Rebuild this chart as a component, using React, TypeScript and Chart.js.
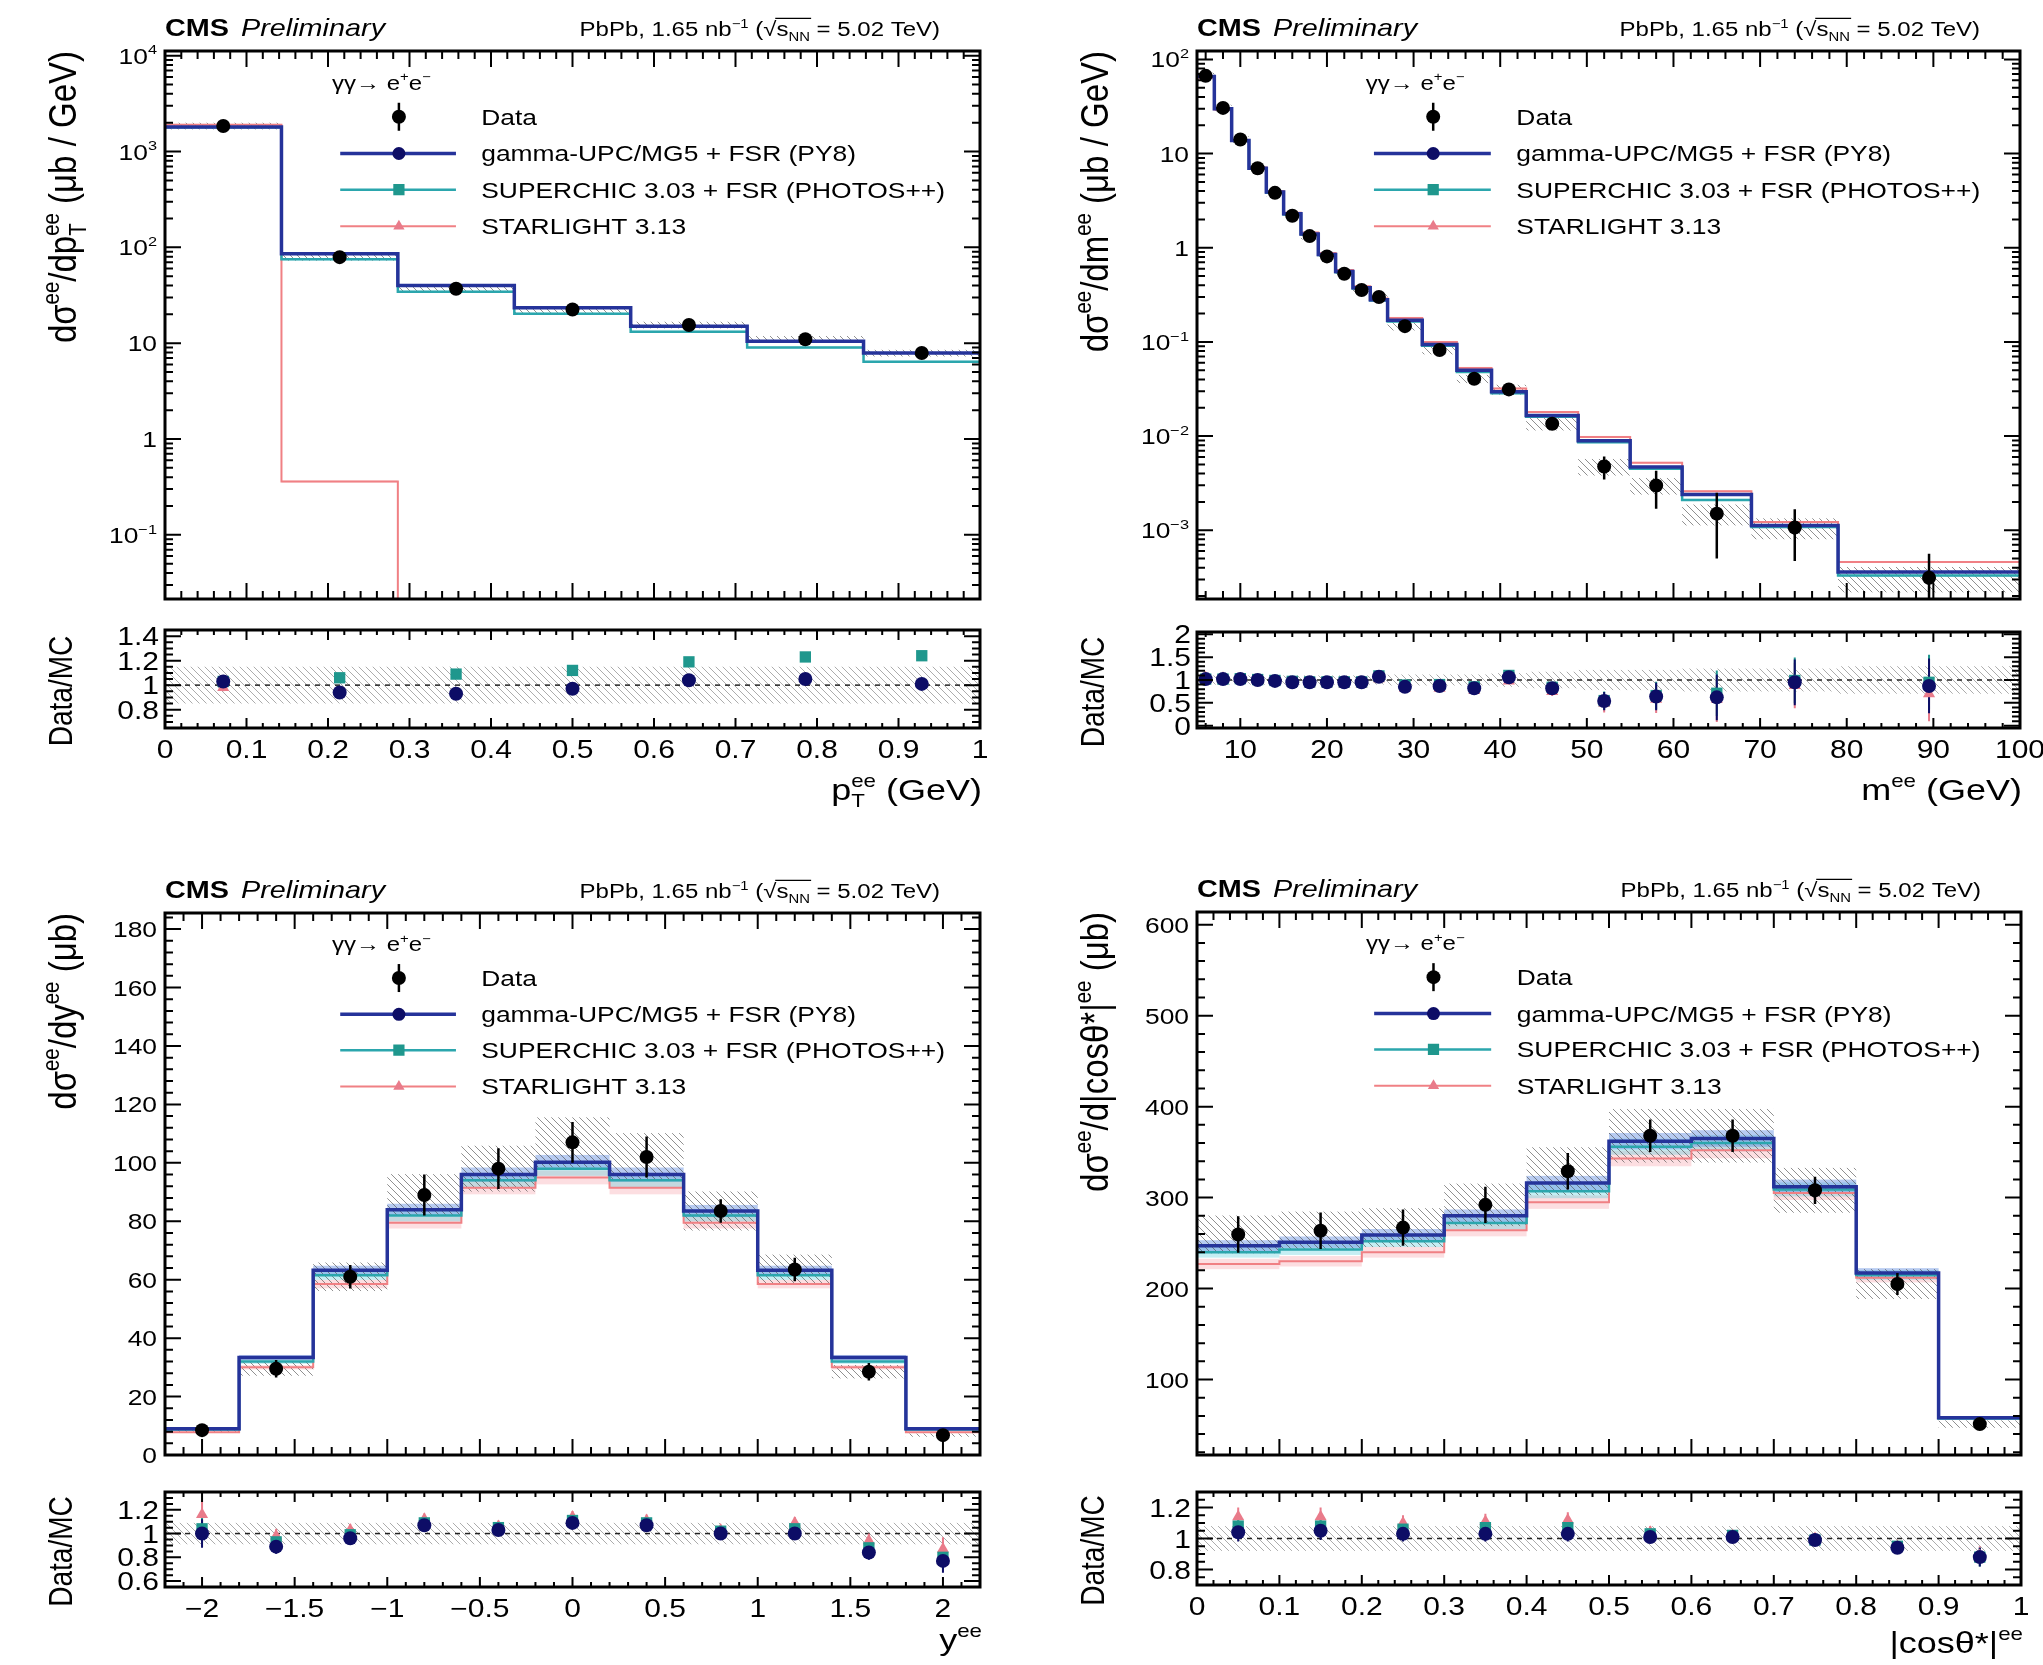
import { useEffect, useRef } from 'react';
import { Chart, registerables } from 'chart.js';

Chart.register(...registerables);

const FONT = '"Liberation Sans", Arial, Helvetica, sans-serif';
const STRETCH = 1.2; // text is drawn slightly wide, like the ROOT canvas it mimics
const BAND = 0.025; // half-width of the model uncertainty bands

const MODEL_NAMES = ['gamma-UPC/MG5 + FSR (PY8)', 'SUPERCHIC 3.03 + FSR (PHOTOS++)', 'STARLIGHT 3.13'];
const MODEL_LINE = ['#25339a', '#2ba6ad', '#f08084'];
const MODEL_WIDTH = [3.5, 2.5, 2];
const MODEL_MARKER = ['#0d0d66', '#1f978d', '#e97b8a'];
const MODEL_BAND = ['rgba(95,140,225,0.45)', 'rgba(90,205,220,0.35)', 'rgba(245,160,170,0.35)'];
const MODEL_STYLE = ['circle', 'rect', 'triangle'];

// ---------- pT of the pair ----------
const ptEdges = [0, 0.1429, 0.2857, 0.4286, 0.5714, 0.7143, 0.8571, 1.0];
const ptData = [1850, 79, 37, 22.5, 15.5, 11.0, 7.9];
const ptDataErr = [50, 2.5, 1.2, 0.8, 0.6, 0.45, 0.35];
const ptSyst = [0.08, 0.08, 0.08, 0.08, 0.08, 0.08, 0.08];
const ptGammaUPC = [1800, 86, 40, 23.5, 15.0, 10.5, 7.9];
const ptSuperchic = [1790, 75, 34.5, 20.3, 13.2, 9.0, 6.4];
const ptStarlight = [1900, 0.36, 0, 0, 0, 0, 0];
const ptRatioGammaUPC = [1.03, 0.94, 0.93, 0.97, 1.04, 1.05, 1.01];
const ptRatioSuperchic = [1.03, 1.06, 1.09, 1.12, 1.19, 1.23, 1.24];
const ptRatioStarlight = [0.98, null, null, null, null, null, null];
const ptRatioErr = [0.03, 0.03, 0.03, 0.03, 0.03, 0.03, 0.03];
const ptRatioSyst = [0.15, 0.15, 0.15, 0.15, 0.15, 0.15, 0.15];
const ptXTicks = [0, 0.1, 0.2, 0.3, 0.4, 0.5, 0.6, 0.7, 0.8, 0.9, 1];
const ptXLabels = ['0', '0.1', '0.2', '0.3', '0.4', '0.5', '0.6', '0.7', '0.8', '0.9', '1'];
const ptYTicks = [0.1, 1, 10, 100, 1000, 10000];
const ptYLabels = ['10^−1', '1', '10', '10^2', '10^3', '10^4'];
const ptRatioTicks = [0.8, 1, 1.2, 1.4];
const ptRatioLabels = ['0.8', '1', '1.2', '1.4'];

// ---------- invariant mass ----------
const massEdges = [5, 7, 9, 11, 13, 15, 17, 19, 21, 23, 25, 27, 31, 35, 39, 43, 49, 55, 61, 69, 79, 100];
const massData = [67, 30.6, 14.1, 7.0, 3.83, 2.19, 1.33, 0.81, 0.53, 0.356, 0.30, 0.147, 0.082, 0.0406, 0.0313, 0.0135, 0.00476, 0.00299, 0.0015, 0.00107, 0.000313];
const massDataErr = [2, 1, 0.4, 0.2, 0.1, 0.06, 0.04, 0.025, 0.017, 0.012, 0.011, 0.007, 0.005, 0.003, 0.0025, 0.0015, 0.0013, 0.0013, 0.001, 0.0006, 0.00025];
const massSyst = [0.08, 0.08, 0.08, 0.08, 0.08, 0.08, 0.08, 0.08, 0.08, 0.08, 0.08, 0.1, 0.1, 0.1, 0.12, 0.15, 0.2, 0.2, 0.25, 0.25, 0.3];
const massGammaUPC = [66, 30, 13.8, 7.0, 3.9, 2.3, 1.4, 0.85, 0.56, 0.375, 0.28, 0.17, 0.094, 0.05, 0.0295, 0.0165, 0.0089, 0.0047, 0.0024, 0.00112, 0.00036];
const massSuperchic = [66, 30, 13.7, 6.9, 3.85, 2.25, 1.38, 0.84, 0.55, 0.37, 0.275, 0.165, 0.091, 0.048, 0.0285, 0.016, 0.0086, 0.0045, 0.0021, 0.00108, 0.00033];
const massStarlight = [64, 29.5, 13.8, 7.1, 4.0, 2.35, 1.45, 0.88, 0.58, 0.39, 0.29, 0.18, 0.1, 0.053, 0.032, 0.018, 0.0098, 0.0052, 0.0026, 0.00122, 0.00046];
const massRatioGammaUPC = [1.02, 1.02, 1.02, 1.0, 0.98, 0.95, 0.95, 0.95, 0.95, 0.95, 1.07, 0.85, 0.87, 0.82, 1.06, 0.82, 0.54, 0.64, 0.62, 0.95, 0.87];
const massRatioSuperchic = [1.02, 1.02, 1.03, 1.01, 0.99, 0.97, 0.96, 0.96, 0.96, 0.96, 1.09, 0.89, 0.9, 0.85, 1.1, 0.84, 0.55, 0.66, 0.71, 0.99, 0.95];
const massRatioStarlight = [1.05, 1.04, 1.02, 0.99, 0.96, 0.93, 0.92, 0.92, 0.91, 0.91, 1.03, 0.82, 0.82, 0.77, 0.98, 0.75, 0.49, 0.58, 0.58, 0.88, 0.7];
const massRatioErr = [0.02, 0.02, 0.02, 0.02, 0.02, 0.02, 0.02, 0.02, 0.03, 0.03, 0.03, 0.04, 0.05, 0.06, 0.07, 0.1, 0.2, 0.3, 0.5, 0.5, 0.6];
const massRatioSyst = [0.1, 0.1, 0.1, 0.1, 0.1, 0.1, 0.1, 0.1, 0.1, 0.1, 0.1, 0.12, 0.12, 0.12, 0.15, 0.18, 0.22, 0.22, 0.25, 0.25, 0.3];
const massXTicks = [10, 20, 30, 40, 50, 60, 70, 80, 90, 100];
const massXLabels = ['10', '20', '30', '40', '50', '60', '70', '80', '90', '100'];
const massYTicks = [0.001, 0.01, 0.1, 1, 10, 100];
const massYLabels = ['10^−3', '10^−2', '10^−1', '1', '10', '10^2'];
const massRatioTicks = [0, 0.5, 1, 1.5, 2];
const massRatioLabels = ['0', '0.5', '1', '1.5', '2'];

// ---------- rapidity ----------
const yEdges = [-2.2, -1.8, -1.4, -1.0, -0.6, -0.2, 0.2, 0.6, 1.0, 1.4, 1.8, 2.2];
const yData = [8.5, 29.5, 61, 89, 98, 107, 102, 83.5, 63.5, 28.5, 6.8];
const yDataErr = [1.5, 3, 4, 7, 7, 7, 7, 4, 4, 3, 1.5];
const ySyst = [0.08, 0.08, 0.08, 0.08, 0.08, 0.08, 0.08, 0.08, 0.08, 0.08, 0.08];
const yGammaUPC = [9.0, 33.4, 63.2, 83.9, 96, 100.2, 96, 83.5, 63.2, 33.4, 9.0];
const ySuperchic = [8.7, 32.0, 61.5, 82.0, 94, 98.0, 94, 82, 61.5, 32.0, 8.7];
const yStarlight = [7.8, 30.0, 58.5, 79.5, 91.5, 95.0, 91.5, 79.5, 58.5, 30.0, 7.8];
const yRatioGammaUPC = [1.0, 0.89, 0.96, 1.07, 1.03, 1.09, 1.07, 1.0, 1.0, 0.84, 0.77];
const yRatioSuperchic = [1.04, 0.93, 0.99, 1.09, 1.05, 1.11, 1.09, 1.02, 1.04, 0.88, 0.8];
const yRatioStarlight = [1.16, 0.98, 1.03, 1.12, 1.06, 1.14, 1.11, 1.03, 1.09, 0.94, 0.87];
const yRatioErr = [0.12, 0.06, 0.05, 0.05, 0.05, 0.05, 0.05, 0.04, 0.05, 0.06, 0.1];
const yRatioSyst = [0.09, 0.09, 0.09, 0.09, 0.09, 0.09, 0.09, 0.09, 0.09, 0.09, 0.09];
const yXTicks = [-2, -1.5, -1, -0.5, 0, 0.5, 1, 1.5, 2];
const yXLabels = ['−2', '−1.5', '−1', '−0.5', '0', '0.5', '1', '1.5', '2'];
const yYTicks = [0, 20, 40, 60, 80, 100, 120, 140, 160, 180];
const yYLabels = ['0', '20', '40', '60', '80', '100', '120', '140', '160', '180'];
const yRatioTicks = [0.6, 0.8, 1, 1.2];
const yRatioLabels = ['0.6', '0.8', '1', '1.2'];

// ---------- |cos theta*| ----------
const cosEdges = [0, 0.1, 0.2, 0.3, 0.4, 0.5, 0.6, 0.7, 0.8, 0.9, 1.0];
const cosData = [259.5, 263.5, 267, 292, 329, 368, 368, 308, 205, 51];
const cosDataErr = [20, 20, 20, 20, 20, 18, 18, 15, 12, 5];
const cosSyst = [0.08, 0.08, 0.08, 0.08, 0.08, 0.08, 0.08, 0.08, 0.08, 0.08];
const cosGammaUPC = [247, 251, 259, 280, 316, 362, 365, 312, 217, 58];
const cosSuperchic = [240, 243, 252, 272, 307, 356, 360, 309, 215, 57];
const cosStarlight = [227, 230, 240, 264, 295, 343, 352, 305, 212, 58];
const cosRatioGammaUPC = [1.04, 1.05, 1.03, 1.03, 1.03, 1.01, 1.01, 0.99, 0.94, 0.88];
const cosRatioSuperchic = [1.08, 1.08, 1.06, 1.07, 1.07, 1.03, 1.02, 0.99, 0.95, 0.88];
const cosRatioStarlight = [1.14, 1.14, 1.1, 1.11, 1.12, 1.04, 1.02, 1.0, 0.95, 0.89];
const cosRatioErr = [0.06, 0.06, 0.05, 0.05, 0.05, 0.04, 0.03, 0.03, 0.03, 0.06];
const cosRatioSyst = [0.08, 0.08, 0.08, 0.08, 0.08, 0.08, 0.08, 0.08, 0.08, 0.08];
const cosXTicks = [0, 0.1, 0.2, 0.3, 0.4, 0.5, 0.6, 0.7, 0.8, 0.9, 1];
const cosXLabels = ['0', '0.1', '0.2', '0.3', '0.4', '0.5', '0.6', '0.7', '0.8', '0.9', '1'];
const cosYTicks = [100, 200, 300, 400, 500, 600];
const cosYLabels = ['100', '200', '300', '400', '500', '600'];
const cosRatioTicks = [0.8, 1, 1.2];
const cosRatioLabels = ['0.8', '1', '1.2'];

// ---------- helpers ----------
type Seg = { t: string; sup?: string; sub?: string; style?: string; over?: boolean };
type Axis = { min: number; max: number; log?: boolean; major: number[]; labels: string[]; minor: number[] };
type PanelDef = {
  key: string;
  box: [number, number, number, number];
  frameX: [number, number];
  mainY: [number, number];
  ratioY: [number, number];
  edges: number[];
  data: number[];
  dataErr: number[];
  syst: number[];
  models: number[][];
  ratios: (number | null)[][];
  ratioErr: number[];
  ratioSyst: number[];
  x: Axis;
  y: Axis;
  ry: Axis;
  yTitle: Seg[];
  xTitle: Seg[];
  xTitleDy: number;
};

function steps(min: number, max: number, step: number): number[] {
  const out: number[] = [];
  const start = Math.ceil(min / step - 1e-6);
  for (let i = start; i * step <= max + 1e-9; i++) out.push(Math.round(i * step * 1e6) / 1e6);
  return out;
}

function logSteps(min: number, max: number): number[] {
  const out: number[] = [];
  for (let e = Math.floor(Math.log10(min)); e <= Math.ceil(Math.log10(max)); e++) {
    for (let m = 1; m < 10; m++) {
      const v = m * Math.pow(10, e);
      if (v >= min && v <= max) out.push(v);
    }
  }
  return out;
}

function parseLabel(s: string): Seg[] {
  const [base, exp] = s.split('^');
  return exp ? [{ t: base, sup: exp }] : [{ t: base }];
}

function centers(edges: number[]): number[] {
  return edges.slice(0, -1).map((e, i) => (e + edges[i + 1]) / 2);
}

// Histogram outline as step points; empty bins on a log axis sit on the axis floor.
function stepPoints(edges: number[], vals: number[], floor: number | null) {
  const v = (y: number) => (floor !== null && !(y > 0) ? floor : y);
  const pts = vals.map((y, i) => ({ x: edges[i], y: v(y) }));
  pts.push({ x: edges[edges.length - 1], y: v(vals[vals.length - 1]) });
  return pts;
}

function drawRich(
  ctx: CanvasRenderingContext2D,
  segs: Seg[],
  x: number,
  y: number,
  size: number,
  o: { align?: 'left' | 'right' | 'center'; style?: string; rot?: boolean; color?: string; sx?: number } = {}
): number {
  const sx = o.sx ?? STRETCH;
  const small = size * 0.62;
  const font = (px: number, st?: string) => `${st ? st + ' ' : ''}${px}px ${FONT}`;
  const parts: { seg: Seg; x: number; wt: number; ws: number }[] = [];
  let w = 0;
  for (const seg of segs) {
    const st = seg.style ?? o.style;
    ctx.font = font(size, st);
    const wt = seg.t ? ctx.measureText(seg.t).width : 0;
    ctx.font = font(small, st);
    const ws = Math.max(seg.sup ? ctx.measureText(seg.sup).width : 0, seg.sub ? ctx.measureText(seg.sub).width : 0);
    parts.push({ seg, x: w, wt, ws });
    w += wt + ws;
  }
  ctx.save();
  ctx.translate(x, y);
  if (o.rot) {
    ctx.rotate(-Math.PI / 2);
    ctx.scale(1, sx);
  } else {
    ctx.scale(sx, 1);
  }
  const x0 = o.align === 'right' ? -w : o.align === 'center' ? -w / 2 : 0;
  ctx.fillStyle = o.color ?? '#000';
  ctx.strokeStyle = o.color ?? '#000';
  ctx.textAlign = 'left';
  ctx.textBaseline = 'alphabetic';
  for (const p of parts) {
    const st = p.seg.style ?? o.style;
    if (p.seg.t) {
      ctx.font = font(size, st);
      ctx.fillText(p.seg.t, x0 + p.x, 0);
    }
    ctx.font = font(small, st);
    if (p.seg.sup) ctx.fillText(p.seg.sup, x0 + p.x + p.wt, -size * 0.42);
    if (p.seg.sub) ctx.fillText(p.seg.sub, x0 + p.x + p.wt, size * 0.24);
    if (p.seg.over) {
      ctx.lineWidth = Math.max(1, size * 0.07);
      ctx.beginPath();
      ctx.moveTo(x0 + p.x - 1, -size * 0.88);
      ctx.lineTo(x0 + p.x + p.wt + p.ws + 1, -size * 0.88);
      ctx.stroke();
    }
  }
  ctx.restore();
  return w * sx;
}

function drawMarker(ctx: CanvasRenderingContext2D, kind: string, x: number, y: number, r: number, color: string) {
  ctx.fillStyle = color;
  ctx.beginPath();
  if (kind === 'rect') ctx.rect(x - r * 0.75, y - r * 0.75, r * 1.5, r * 1.5);
  else if (kind === 'triangle') {
    ctx.moveTo(x, y - r);
    ctx.lineTo(x + r * 0.87, y + r * 0.5);
    ctx.lineTo(x - r * 0.87, y + r * 0.5);
    ctx.closePath();
  } else ctx.arc(x, y, r, 0, Math.PI * 2);
  ctx.fill();
}

const hatchCache = new WeakMap<CanvasRenderingContext2D, CanvasPattern>();
function hatch(ctx: CanvasRenderingContext2D, color: string): CanvasPattern | string {
  const cached = hatchCache.get(ctx);
  if (cached) return cached;
  const c = document.createElement('canvas');
  c.width = 7;
  c.height = 7;
  const g = c.getContext('2d');
  if (!g) return color;
  g.strokeStyle = color;
  g.lineWidth = 1;
  g.beginPath();
  g.moveTo(-1, -1);
  g.lineTo(8, 8);
  g.moveTo(-1, 6);
  g.lineTo(1, 8);
  g.moveTo(6, -1);
  g.lineTo(8, 1);
  g.stroke();
  const pat = ctx.createPattern(c, 'repeat');
  if (!pat) return color;
  hatchCache.set(ctx, pat);
  return pat;
}

function frameAndTicks(chart: any, xa: Axis, ya: Axis, xLen: [number, number], yLen: [number, number]) {
  const { ctx, chartArea: a } = chart;
  const xs = chart.scales.x;
  const ys = chart.scales.y;
  ctx.save();
  ctx.strokeStyle = '#000';
  ctx.lineWidth = 2;
  ctx.beginPath();
  const tx = (v: number, len: number) => {
    const px = xs.getPixelForValue(v);
    if (px < a.left + 1 || px > a.right - 1) return;
    ctx.moveTo(px, a.bottom);
    ctx.lineTo(px, a.bottom - len);
    ctx.moveTo(px, a.top);
    ctx.lineTo(px, a.top + len);
  };
  const ty = (v: number, len: number) => {
    const py = ys.getPixelForValue(v);
    if (py < a.top + 1 || py > a.bottom - 1) return;
    ctx.moveTo(a.left, py);
    ctx.lineTo(a.left + len, py);
    ctx.moveTo(a.right, py);
    ctx.lineTo(a.right - len, py);
  };
  xa.minor.forEach((v) => tx(v, xLen[1]));
  xa.major.forEach((v) => tx(v, xLen[0]));
  ya.minor.forEach((v) => ty(v, yLen[1]));
  ya.major.forEach((v) => ty(v, yLen[0]));
  ctx.stroke();
  ctx.lineWidth = 3;
  ctx.strokeRect(a.left, a.top, a.right - a.left, a.bottom - a.top);
  ctx.restore();
}

const LUMI: Seg[] = [
  { t: 'PbPb, 1.65 nb', sup: '−1' },
  { t: ' (' },
  { t: '√' },
  { t: 's', sub: 'NN', over: true },
  { t: ' = 5.02 TeV)' },
];

function drawLegend(ctx: CanvasRenderingContext2D, a: any) {
  const W = a.right - a.left;
  const H = a.bottom - a.top;
  const X = (f: number) => a.left + f * W;
  const Y = (f: number) => a.top + f * H;
  drawRich(ctx, [{ t: 'γγ→ e', sup: '+' }, { t: 'e', sup: '−' }], X(0.205), Y(0.058) + 7, 20);
  const rows = [0.12, 0.187, 0.253, 0.32].map(Y);
  const mx = X(0.287);
  const tx = X(0.388);
  ctx.save();
  ctx.strokeStyle = '#000';
  ctx.lineWidth = 2.5;
  ctx.beginPath();
  ctx.moveTo(mx, rows[0] - 14);
  ctx.lineTo(mx, rows[0] + 14);
  ctx.stroke();
  drawMarker(ctx, 'circle', mx, rows[0], 7, '#000');
  drawRich(ctx, [{ t: 'Data' }], tx, rows[0] + 8, 22);
  for (let m = 0; m < 3; m++) {
    const ry = rows[m + 1];
    ctx.strokeStyle = MODEL_LINE[m];
    ctx.lineWidth = MODEL_WIDTH[m];
    ctx.beginPath();
    ctx.moveTo(X(0.215), ry);
    ctx.lineTo(X(0.357), ry);
    ctx.stroke();
    drawMarker(ctx, MODEL_STYLE[m], mx, ry, m === 1 ? 7.5 : 6.5, MODEL_MARKER[m]);
    drawRich(ctx, [{ t: MODEL_NAMES[m] }], tx, ry + 8, 22);
  }
  ctx.restore();
}

function mainPlugin(d: PanelDef) {
  const xc = centers(d.edges);
  return {
    id: 'mainDecor',
    beforeDatasetsDraw(chart: any) {
      const { ctx, chartArea: a } = chart;
      const xs = chart.scales.x;
      const ys = chart.scales.y;
      ctx.save();
      ctx.beginPath();
      ctx.rect(a.left, a.top, a.right - a.left, a.bottom - a.top);
      ctx.clip();
      for (let m = 2; m >= 0; m--) {
        d.models[m].forEach((v, i) => {
          if (!(v > 0)) return;
          const x0 = xs.getPixelForValue(d.edges[i]);
          const x1 = xs.getPixelForValue(d.edges[i + 1]);
          const y0 = ys.getPixelForValue(v * (1 + BAND));
          const y1 = ys.getPixelForValue(v * (1 - BAND));
          ctx.fillStyle = MODEL_BAND[m];
          ctx.fillRect(x0, y0, x1 - x0, y1 - y0);
        });
      }
      ctx.fillStyle = hatch(ctx, 'rgba(70,70,70,0.6)');
      d.data.forEach((v, i) => {
        const x0 = xs.getPixelForValue(d.edges[i]);
        const x1 = xs.getPixelForValue(d.edges[i + 1]);
        const y0 = ys.getPixelForValue(v * (1 + d.syst[i]));
        const y1 = ys.getPixelForValue(v * (1 - d.syst[i]));
        ctx.fillRect(x0, y0, x1 - x0, y1 - y0);
      });
      ctx.restore();
    },
    beforeDatasetDraw(chart: any, args: any) {
      if (args.index !== 0) return;
      const { ctx, chartArea: a } = chart;
      const xs = chart.scales.x;
      const ys = chart.scales.y;
      ctx.save();
      ctx.beginPath();
      ctx.rect(a.left, a.top, a.right - a.left, a.bottom - a.top);
      ctx.clip();
      ctx.strokeStyle = '#000';
      ctx.lineWidth = 2.5;
      ctx.beginPath();
      xc.forEach((x, i) => {
        const lo = Math.max(d.data[i] - d.dataErr[i], d.y.min);
        const px = xs.getPixelForValue(x);
        ctx.moveTo(px, ys.getPixelForValue(lo));
        ctx.lineTo(px, ys.getPixelForValue(d.data[i] + d.dataErr[i]));
      });
      ctx.stroke();
      ctx.restore();
    },
    afterDraw(chart: any) {
      const { ctx, chartArea: a } = chart;
      const ys = chart.scales.y;
      frameAndTicks(chart, d.x, d.y, [16, 8], [16, 8]);
      d.y.major.forEach((v, i) => {
        drawRich(ctx, parseLabel(d.y.labels[i]), a.left - 8, ys.getPixelForValue(v) + 8, 22, { align: 'right' });
      });
      drawRich(ctx, d.yTitle, a.left - 89, a.top, 33, { align: 'right', rot: true });
      const w = drawRich(ctx, [{ t: 'CMS', style: 'bold' }], a.left, a.top - 15, 24);
      drawRich(ctx, [{ t: 'Preliminary', style: 'italic' }], a.left + w + 12, a.top - 15, 24);
      drawRich(ctx, LUMI, a.right - 40, a.top - 15, 20, { align: 'right' });
      drawLegend(ctx, a);
    },
  };
}

function ratioPlugin(d: PanelDef) {
  const xc = centers(d.edges);
  return {
    id: 'ratioDecor',
    beforeDatasetsDraw(chart: any) {
      const { ctx, chartArea: a } = chart;
      const xs = chart.scales.x;
      const ys = chart.scales.y;
      ctx.save();
      ctx.beginPath();
      ctx.rect(a.left, a.top, a.right - a.left, a.bottom - a.top);
      ctx.clip();
      ctx.fillStyle = hatch(ctx, 'rgba(90,90,90,0.5)');
      d.ratioSyst.forEach((s, i) => {
        const x0 = xs.getPixelForValue(d.edges[i]);
        const x1 = xs.getPixelForValue(d.edges[i + 1]);
        const y0 = ys.getPixelForValue(1 + s);
        const y1 = ys.getPixelForValue(1 - s);
        ctx.fillRect(x0, y0, x1 - x0, y1 - y0);
      });
      ctx.strokeStyle = '#222';
      ctx.lineWidth = 1.5;
      ctx.setLineDash([5, 5]);
      ctx.beginPath();
      ctx.moveTo(a.left, ys.getPixelForValue(1));
      ctx.lineTo(a.right, ys.getPixelForValue(1));
      ctx.stroke();
      ctx.setLineDash([]);
      ctx.lineWidth = 2;
      for (let m = 2; m >= 0; m--) {
        ctx.strokeStyle = MODEL_MARKER[m];
        ctx.beginPath();
        xc.forEach((x, i) => {
          const r = d.ratios[m][i];
          if (r === null) return;
          const px = xs.getPixelForValue(x);
          ctx.moveTo(px, ys.getPixelForValue(r - d.ratioErr[i]));
          ctx.lineTo(px, ys.getPixelForValue(r + d.ratioErr[i]));
        });
        ctx.stroke();
      }
      ctx.restore();
    },
    afterDraw(chart: any) {
      const { ctx, chartArea: a } = chart;
      const xs = chart.scales.x;
      const ys = chart.scales.y;
      frameAndTicks(chart, d.x, d.ry, [10, 5], [16, 8]);
      d.ry.major.forEach((v, i) => {
        drawRich(ctx, parseLabel(d.ry.labels[i]), a.left - 6, ys.getPixelForValue(v) + 9, 25, { align: 'right' });
      });
      d.x.major.forEach((v, i) => {
        drawRich(ctx, parseLabel(d.x.labels[i]), xs.getPixelForValue(v), a.bottom + 30, 25, { align: 'center' });
      });
      drawRich(ctx, d.xTitle, a.right + 2, a.bottom + d.xTitleDy, 30, { align: 'right' });
      drawRich(ctx, [{ t: 'Data/MC' }], a.left - 93, (a.top + a.bottom) / 2 + 12, 28, { align: 'center', rot: true });
    },
  };
}

function baseOptions(d: PanelDef, yTop: number, yBottom: number, ya: Axis) {
  const [bx, by, bw, bh] = d.box;
  return {
    animation: false as const,
    responsive: false,
    devicePixelRatio: 1,
    events: [] as any[],
    layout: {
      padding: { left: d.frameX[0] - bx, right: bx + bw - d.frameX[1], top: yTop - by, bottom: by + bh - yBottom },
    },
    plugins: { legend: { display: false }, tooltip: { enabled: false } },
    scales: {
      x: { type: 'linear', min: d.x.min, max: d.x.max, display: false },
      y: { type: ya.log ? 'logarithmic' : 'linear', min: ya.min, max: ya.max, display: false },
    },
  };
}

function mainConfig(d: PanelDef): any {
  const xc = centers(d.edges);
  const floor = d.y.log ? d.y.min : null;
  return {
    type: 'line',
    data: {
      datasets: [
        {
          label: 'Data',
          data: d.data.map((v, i) => ({ x: xc[i], y: v })),
          showLine: false,
          pointRadius: 7,
          pointBackgroundColor: '#000',
          pointBorderWidth: 0,
          order: 0,
        },
        ...[0, 1, 2].map((m) => ({
          label: MODEL_NAMES[m],
          data: stepPoints(d.edges, d.models[m], floor),
          stepped: true,
          borderColor: MODEL_LINE[m],
          borderWidth: MODEL_WIDTH[m],
          pointRadius: 0,
          fill: false,
          order: m + 1,
        })),
      ],
    },
    options: baseOptions(d, d.mainY[0], d.mainY[1], d.y),
    plugins: [mainPlugin(d)],
  };
}

function ratioConfig(d: PanelDef): any {
  const xc = centers(d.edges);
  return {
    type: 'line',
    data: {
      datasets: [0, 1, 2].map((m) => ({
        label: MODEL_NAMES[m],
        data: xc.map((x, i) => ({ x, y: d.ratios[m][i] })),
        showLine: false,
        pointStyle: MODEL_STYLE[m],
        pointRadius: m === 1 ? 8 : 7,
        pointBackgroundColor: MODEL_MARKER[m],
        pointBorderWidth: 0,
        order: m,
      })),
    },
    options: baseOptions(d, d.ratioY[0], d.ratioY[1], d.ry),
    plugins: [ratioPlugin(d)],
  };
}

const PANELS: PanelDef[] = [
  {
    key: 'pt',
    box: [0, 0, 1021, 832],
    frameX: [165, 980],
    mainY: [51, 599],
    ratioY: [630, 728],
    edges: ptEdges,
    data: ptData,
    dataErr: ptDataErr,
    syst: ptSyst,
    models: [ptGammaUPC, ptSuperchic, ptStarlight],
    ratios: [ptRatioGammaUPC, ptRatioSuperchic, ptRatioStarlight],
    ratioErr: ptRatioErr,
    ratioSyst: ptRatioSyst,
    x: { min: 0, max: 1, major: ptXTicks, labels: ptXLabels, minor: steps(0, 1, 0.02) },
    y: { min: 0.0214, max: 11200, log: true, major: ptYTicks, labels: ptYLabels, minor: logSteps(0.0214, 11200) },
    ry: { min: 0.65, max: 1.45, major: ptRatioTicks, labels: ptRatioLabels, minor: steps(0.65, 1.45, 0.05) },
    yTitle: [{ t: 'dσ', sup: 'ee' }, { t: '/dp', sup: 'ee', sub: 'T' }, { t: ' (μb / GeV)' }],
    xTitle: [{ t: 'p', sup: 'ee', sub: 'T' }, { t: ' (GeV)' }],
    xTitleDy: 72,
  },
  {
    key: 'mass',
    box: [1021, 0, 1022, 832],
    frameX: [1197, 2020],
    mainY: [51, 599],
    ratioY: [632, 728],
    edges: massEdges,
    data: massData,
    dataErr: massDataErr,
    syst: massSyst,
    models: [massGammaUPC, massSuperchic, massStarlight],
    ratios: [massRatioGammaUPC, massRatioSuperchic, massRatioStarlight],
    ratioErr: massRatioErr,
    ratioSyst: massRatioSyst,
    x: { min: 5, max: 100, major: massXTicks, labels: massXLabels, minor: steps(5, 100, 2) },
    y: { min: 0.000186, max: 123, log: true, major: massYTicks, labels: massYLabels, minor: logSteps(0.000186, 123) },
    ry: { min: -0.05, max: 2.05, major: massRatioTicks, labels: massRatioLabels, minor: steps(-0.05, 2.05, 0.1) },
    yTitle: [{ t: 'dσ', sup: 'ee' }, { t: '/dm', sup: 'ee' }, { t: ' (μb / GeV)' }],
    xTitle: [{ t: 'm', sup: 'ee' }, { t: ' (GeV)' }],
    xTitleDy: 72,
  },
  {
    key: 'rap',
    box: [0, 832, 1021, 833],
    frameX: [165, 980],
    mainY: [913, 1455],
    ratioY: [1492, 1587],
    edges: yEdges,
    data: yData,
    dataErr: yDataErr,
    syst: ySyst,
    models: [yGammaUPC, ySuperchic, yStarlight],
    ratios: [yRatioGammaUPC, yRatioSuperchic, yRatioStarlight],
    ratioErr: yRatioErr,
    ratioSyst: yRatioSyst,
    x: { min: -2.2, max: 2.2, major: yXTicks, labels: yXLabels, minor: steps(-2.2, 2.2, 0.1) },
    y: { min: 0, max: 185.5, major: yYTicks, labels: yYLabels, minor: steps(0, 185.5, 4) },
    ry: { min: 0.55, max: 1.35, major: yRatioTicks, labels: yRatioLabels, minor: steps(0.55, 1.35, 0.05) },
    yTitle: [{ t: 'dσ', sup: 'ee' }, { t: '/dy', sup: 'ee' }, { t: ' (μb)' }],
    xTitle: [{ t: 'y', sup: 'ee' }],
    xTitleDy: 63,
  },
  {
    key: 'cos',
    box: [1021, 832, 1022, 833],
    frameX: [1197, 2021],
    mainY: [912, 1455],
    ratioY: [1492, 1585],
    edges: cosEdges,
    data: cosData,
    dataErr: cosDataErr,
    syst: cosSyst,
    models: [cosGammaUPC, cosSuperchic, cosStarlight],
    ratios: [cosRatioGammaUPC, cosRatioSuperchic, cosRatioStarlight],
    ratioErr: cosRatioErr,
    ratioSyst: cosRatioSyst,
    x: { min: 0, max: 1, major: cosXTicks, labels: cosXLabels, minor: steps(0, 1, 0.02) },
    y: { min: 17, max: 614, major: cosYTicks, labels: cosYLabels, minor: steps(17, 614, 20) },
    ry: { min: 0.7, max: 1.3, major: cosRatioTicks, labels: cosRatioLabels, minor: steps(0.7, 1.3, 0.05) },
    yTitle: [{ t: 'dσ', sup: 'ee' }, { t: '/d|cosθ*|', sup: 'ee' }, { t: ' (μb)' }],
    xTitle: [{ t: '|cosθ*|', sup: 'ee' }],
    xTitleDy: 68,
  },
];

function Pane({ def }: { def: PanelDef }) {
  const mainRef = useRef<HTMLCanvasElement>(null);
  const ratioRef = useRef<HTMLCanvasElement>(null);
  useEffect(() => {
    if (!mainRef.current || !ratioRef.current) return;
    const main = new Chart(mainRef.current, mainConfig(def));
    const ratio = new Chart(ratioRef.current, ratioConfig(def));
    return () => {
      main.destroy();
      ratio.destroy();
    };
  }, [def]);
  const [l, t, w, h] = def.box;
  const st = { position: 'absolute' as const, left: 0, top: 0 };
  return (
    <div style={{ position: 'absolute', left: l, top: t, width: w, height: h }}>
      <canvas ref={mainRef} width={w} height={h} style={st} />
      <canvas ref={ratioRef} width={w} height={h} style={st} />
    </div>
  );
}

export default function App() {
  return (
    <div style={{ position: 'absolute', left: 0, top: 0, width: 2043, height: 1665, background: '#fff', overflow: 'hidden' }}>
      {PANELS.map((p) => (
        <Pane key={p.key} def={p} />
      ))}
    </div>
  );
}
